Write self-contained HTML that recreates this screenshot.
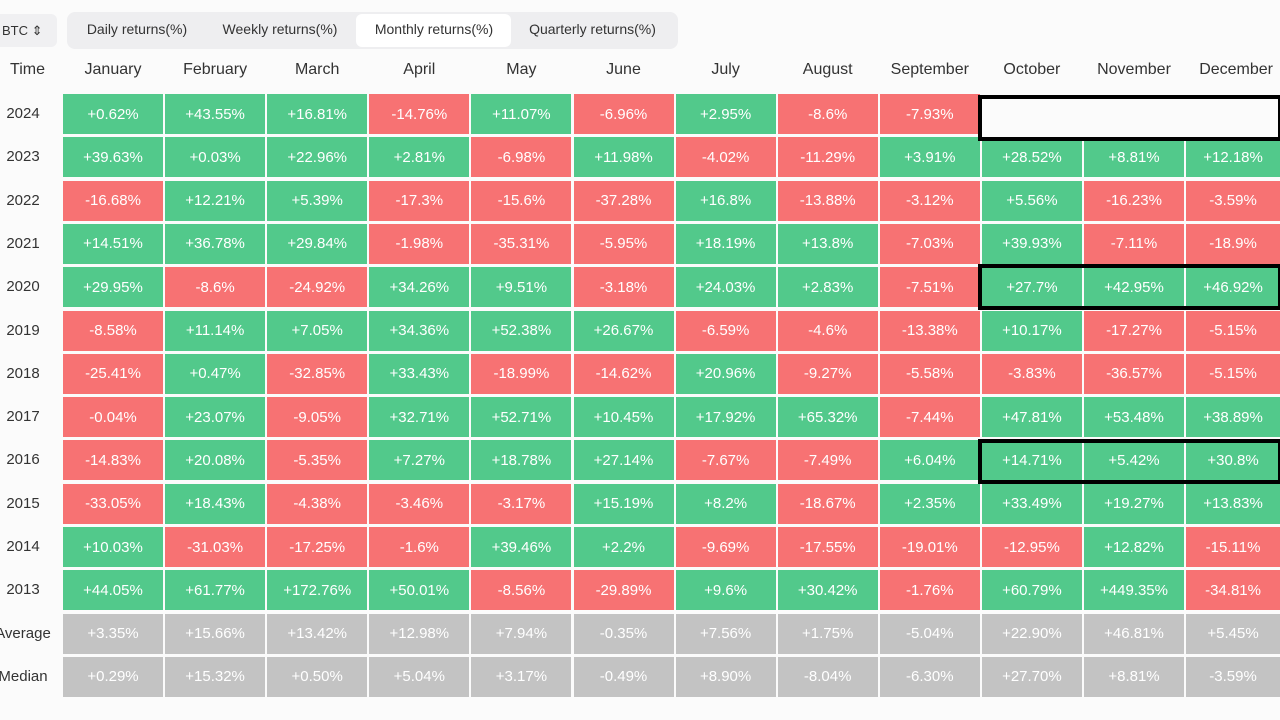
<!DOCTYPE html><html><head><meta charset="utf-8"><style>
body{margin:0;width:1280px;height:720px;overflow:hidden;background:#fbfbfb;font-family:"Liberation Sans",sans-serif;position:relative}
.c{position:absolute;display:flex;align-items:center;justify-content:center;color:#fff;font-size:15px}
.g{background:#52c98b}.r{background:#f77273}.y{background:#c3c3c3}
.h{position:absolute;font-size:16px;color:#333;text-align:center}
.bx{position:absolute;border:4px solid #000;box-sizing:border-box}
</style></head><body>
<div style="position:absolute;left:-10px;top:14px;width:67px;height:33px;background:#f0f0f2;border-radius:6px;font-size:13px;color:#333;line-height:33px;padding-left:12px;box-sizing:border-box">BTC ⇕</div>
<div style="position:absolute;left:67px;top:12px;width:611px;height:37px;background:#eeeef0;border-radius:8px"></div>
<div style="position:absolute;left:356px;top:14px;width:155px;height:33px;background:#fff;border-radius:6px"></div>
<div class="h" style="left:67px;top:21px;width:140px;font-size:14px">Daily returns(%)</div>
<div class="h" style="left:210px;top:21px;width:140px;font-size:14px">Weekly returns(%)</div>
<div class="h" style="left:364px;top:21px;width:140px;font-size:14px">Monthly returns(%)</div>
<div class="h" style="left:520px;top:21px;width:145px;font-size:14px">Quarterly returns(%)</div>
<div id="t"></div>
<script>
const m=["January","February","March","April","May","June","July","August","September","October","November","December"];
const rows=[["2024","+0.62%","+43.55%","+16.81%","-14.76%","+11.07%","-6.96%","+2.95%","-8.6%","-7.93%","","",""],
["2023","+39.63%","+0.03%","+22.96%","+2.81%","-6.98%","+11.98%","-4.02%","-11.29%","+3.91%","+28.52%","+8.81%","+12.18%"],
["2022","-16.68%","+12.21%","+5.39%","-17.3%","-15.6%","-37.28%","+16.8%","-13.88%","-3.12%","+5.56%","-16.23%","-3.59%"],
["2021","+14.51%","+36.78%","+29.84%","-1.98%","-35.31%","-5.95%","+18.19%","+13.8%","-7.03%","+39.93%","-7.11%","-18.9%"],
["2020","+29.95%","-8.6%","-24.92%","+34.26%","+9.51%","-3.18%","+24.03%","+2.83%","-7.51%","+27.7%","+42.95%","+46.92%"],
["2019","-8.58%","+11.14%","+7.05%","+34.36%","+52.38%","+26.67%","-6.59%","-4.6%","-13.38%","+10.17%","-17.27%","-5.15%"],
["2018","-25.41%","+0.47%","-32.85%","+33.43%","-18.99%","-14.62%","+20.96%","-9.27%","-5.58%","-3.83%","-36.57%","-5.15%"],
["2017","-0.04%","+23.07%","-9.05%","+32.71%","+52.71%","+10.45%","+17.92%","+65.32%","-7.44%","+47.81%","+53.48%","+38.89%"],
["2016","-14.83%","+20.08%","-5.35%","+7.27%","+18.78%","+27.14%","-7.67%","-7.49%","+6.04%","+14.71%","+5.42%","+30.8%"],
["2015","-33.05%","+18.43%","-4.38%","-3.46%","-3.17%","+15.19%","+8.2%","-18.67%","+2.35%","+33.49%","+19.27%","+13.83%"],
["2014","+10.03%","-31.03%","-17.25%","-1.6%","+39.46%","+2.2%","-9.69%","-17.55%","-19.01%","-12.95%","+12.82%","-15.11%"],
["2013","+44.05%","+61.77%","+172.76%","+50.01%","-8.56%","-29.89%","+9.6%","+30.42%","-1.76%","+60.79%","+449.35%","-34.81%"],
["Average","+3.35%","+15.66%","+13.42%","+12.98%","+7.94%","-0.35%","+7.56%","+1.75%","-5.04%","+22.90%","+46.81%","+5.45%"],
["Median","+0.29%","+15.32%","+0.50%","+5.04%","+3.17%","-0.49%","+8.90%","-8.04%","-6.30%","+27.70%","+8.81%","-3.59%"]];
let h='<div class="h" style="left:0;top:61px;width:55px">Time</div>';
m.forEach((n,i)=>{h+=`<div class="h" style="left:${63+i*102.1}px;top:61px;width:100px">${n}</div>`});
rows.forEach((r,j)=>{const y=94+j*43.3;
h+=`<div class="h" style="left:-12px;top:${y+11}px;width:70px;font-size:15px">${r[0]}</div>`;
for(let i=1;i<13;i++){const v=r[i];if(v==="")continue;const x=63+(i-1)*102.1;const w=i==12?1280-x:100;
const cl=j>=12?"y":(v[0]=="-"?"r":"g");
h+=`<div class="c ${cl}" style="left:${x}px;top:${y}px;width:${w}px;height:40px">${v}</div>`;}});
h+='<div class="bx" style="left:978px;top:95px;width:304px;height:46px;background:#fbfbfb"></div>';
h+='<div class="bx" style="left:978px;top:264px;width:304px;height:46px"></div>';
h+='<div class="bx" style="left:978px;top:439px;width:304px;height:45px"></div>';
document.getElementById("t").innerHTML=h;
</script></body></html>
